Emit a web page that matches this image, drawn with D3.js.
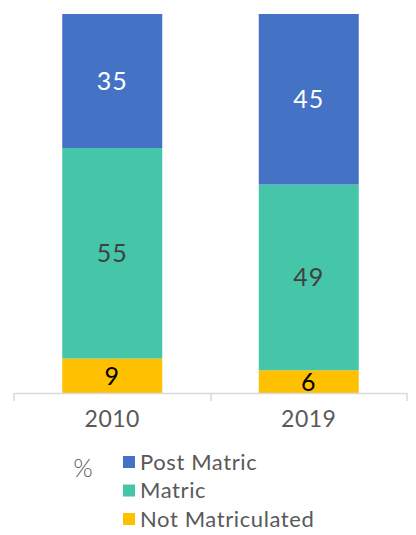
<!DOCTYPE html>
<html>
<head>
<meta charset="utf-8">
<script src="https://cdn.jsdelivr.net/npm/d3@7"></script>
<style>
  html, body { margin: 0; padding: 0; background: #fff; }
</style>
</head>
<body>
<script>
const years = ["2010", "2019"];
const seriesNames = ["Not Matriculated", "Matric", "Post Matric"];
const notMatriculated = [9, 6];
const matric = [55, 49];
const postMatric = [35, 45];
const legendOrder = ["Post Matric", "Matric", "Not Matriculated"];

const width = 416, height = 535;
const colors = {"Post Matric": "#4472C4", "Matric": "#46C6A9", "Not Matriculated": "#FFC000"};
const labelColors = {"Post Matric": "#ffffff", "Matric": "#404040", "Not Matriculated": "#000000"};
const font = "Lato, 'Open Sans', sans-serif";

const rows = years.map((y, i) => ({
  year: y,
  "Not Matriculated": notMatriculated[i],
  "Matric": matric[i],
  "Post Matric": postMatric[i]
}));

const stacked = d3.stack()
    .keys(seriesNames)
    .offset(d3.stackOffsetExpand)(rows);

const x = d3.scaleBand()
    .domain(years)
    .range([14, 407])
    .paddingInner(0)
    .paddingOuter(0);

const barW = 100;

const y = d3.scaleLinear()
    .domain([0, 1])
    .range([393, 14]);

const svg = d3.select("body").append("svg")
    .attr("width", width)
    .attr("height", height)
    .attr("viewBox", [0, 0, width, height]);

const layer = svg.append("g")
  .selectAll("g")
  .data(stacked)
  .join("g")
    .attr("fill", d => colors[d.key]);

layer.selectAll("rect")
  .data(d => d)
  .join("rect")
    .attr("x", d => x(d.data.year) + (x.bandwidth() - barW) / 2)
    .attr("width", barW)
    .attr("y", d => y(d[1]))
    .attr("height", d => y(d[0]) - y(d[1]));

layer.selectAll("text")
  .data(d => d.map(v => ({v, key: d.key})))
  .join("text")
    .attr("x", d => x(d.v.data.year) + x.bandwidth() / 2)
    .attr("y", d => (y(d.v[0]) + y(d.v[1])) / 2)
    .attr("dy", "0.36em")
    .attr("text-anchor", "middle")
    .attr("fill", d => labelColors[d.key])
    .style("font", `25px ${font}`)
    .style("letter-spacing", "1px")
    .text(d => d.v.data[d.key]);

// x axis
const axis = svg.append("g")
    .attr("transform", "translate(0,393)")
    .call(d3.axisBottom(x).tickSize(0).tickPadding(18));
axis.select(".domain").attr("stroke", "#d9d9d9").attr("stroke-width", 1.5);
axis.selectAll("text")
    .attr("fill", "#595959")
    .style("font", `23px ${font}`)
    .style("letter-spacing", "0.5px");

axis.selectAll(".sep")
  .data([14, 211, 407])
  .join("line")
    .attr("x1", d => d).attr("x2", d => d)
    .attr("y1", 0).attr("y2", 8)
    .attr("stroke", "#d9d9d9")
    .attr("stroke-width", 1.5);

// legend
svg.append("text")
    .attr("x", 83)
    .attr("y", 468)
    .attr("dy", "0.36em")
    .attr("text-anchor", "middle")
    .attr("fill", "#595959")
    .style("font", `300 25px ${font}`)
    .text("%");

const legend = svg.append("g")
  .selectAll("g")
  .data(legendOrder)
  .join("g")
    .attr("transform", (d, i) => `translate(123,${462 + i * 28.5})`);

legend.append("rect")
    .attr("y", -6)
    .attr("width", 12)
    .attr("height", 12)
    .attr("fill", d => colors[d]);

legend.append("text")
    .attr("x", 17)
    .attr("dy", "0.36em")
    .attr("fill", "#595959")
    .style("font", `22px ${font}`)
    .style("letter-spacing", "0.6px")
    .text(d => d);
</script>
</body>
</html>
